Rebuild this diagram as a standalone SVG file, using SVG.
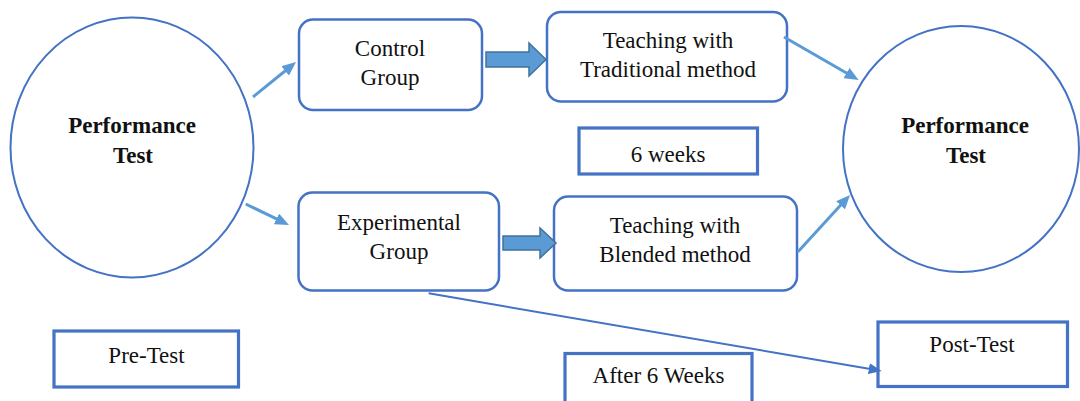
<svg xmlns="http://www.w3.org/2000/svg" width="1080" height="401" viewBox="0 0 1080 401">
<style>
.circ{fill:#fff;stroke:#4472C4;stroke-width:2}
.rbox{fill:#fff;stroke:#4472C4;stroke-width:2.5}
.sbox{fill:#fff;stroke:#4472C4;stroke-width:3.2}
.t{font-family:"Liberation Serif","Times New Roman",serif;font-size:23px;fill:#111;text-anchor:middle}
.b{font-weight:bold}
.la{stroke:#5B9BD5;stroke-width:3;fill:none}
.da{stroke:#4472C4;stroke-width:2;fill:none}
.blk{fill:#5B9BD5;stroke:#41719C;stroke-width:1.5}
</style>
<defs>
<marker id="ah" markerUnits="userSpaceOnUse" markerWidth="14" markerHeight="12" viewBox="0 0 14 12" refX="3" refY="6" orient="auto"><path d="M0,0 L14,6 L0,12 z" fill="#5B9BD5"/></marker>
<marker id="ahd" markerUnits="userSpaceOnUse" markerWidth="13" markerHeight="11" viewBox="0 0 13 11" refX="3" refY="5.5" orient="auto"><path d="M0,0 L13,5.5 L0,11 z" fill="#4472C4"/></marker>
</defs>
<rect width="1080" height="401" fill="#fff"/>
<g id="pre-circle">
<ellipse class="circ" cx="132" cy="147.5" rx="121.5" ry="130"/>
<text class="t b" x="132" y="133">Performance</text>
<text class="t b" x="133" y="163">Test</text>
</g>
<g id="control">
<rect class="rbox" x="299" y="19.5" width="183" height="90.5" rx="14"/>
<text class="t" x="390" y="56">Control</text>
<text class="t" x="390" y="85">Group</text>
</g>
<g id="experimental">
<rect class="rbox" x="298.5" y="192.5" width="200.5" height="98" rx="14"/>
<text class="t" x="399" y="230">Experimental</text>
<text class="t" x="399" y="259">Group</text>
</g>
<g id="traditional">
<rect class="rbox" x="547" y="12" width="240" height="89.5" rx="14"/>
<text class="t" x="668" y="48">Teaching with</text>
<text class="t" x="668" y="77">Traditional method</text>
</g>
<g id="blended">
<rect class="rbox" x="554" y="196.5" width="243" height="94" rx="14"/>
<text class="t" x="675" y="233">Teaching with</text>
<text class="t" x="675" y="262">Blended method</text>
</g>
<g id="six-weeks">
<rect class="sbox" x="579" y="128" width="178.5" height="46"/>
<text class="t" x="668" y="162">6 weeks</text>
</g>
<g id="post-circle">
<ellipse class="circ" cx="961" cy="149" rx="118" ry="123"/>
<text class="t b" x="965" y="133">Performance</text>
<text class="t b" x="966" y="163">Test</text>
</g>
<g id="pre-test">
<rect class="sbox" x="54" y="331" width="184.5" height="56"/>
<text class="t" x="146.5" y="363">Pre-Test</text>
</g>
<g id="after-6-weeks">
<rect class="sbox" x="565" y="353.5" width="187" height="60"/>
<text class="t" x="658.5" y="383">After 6 Weeks</text>
</g>
<g id="post-test">
<rect class="sbox" x="878" y="322" width="189.5" height="64.5"/>
<text class="t" x="972" y="352">Post-Test</text>
</g>
<g id="connectors">
<line class="la" x1="253" y1="97" x2="287.5" y2="69" marker-end="url(#ah)"/>
<line class="la" x1="245.7" y1="204" x2="279.1" y2="220.2" marker-end="url(#ah)"/>
<line class="la" x1="784" y1="37" x2="849.1" y2="74.5" marker-end="url(#ah)"/>
<line class="la" x1="798" y1="251.7" x2="842.6" y2="203.1" marker-end="url(#ah)"/>
<line class="da" x1="428.6" y1="293.3" x2="871.8" y2="369.2" marker-end="url(#ahd)"/>
<polygon class="blk" points="486,52 529,52 529,43 546,59.5 529,76 529,67 486,67"/>
<polygon class="blk" points="503,236 540,236 540,228 556,243 540,258 540,250 503,250"/>
</g>
</svg>
